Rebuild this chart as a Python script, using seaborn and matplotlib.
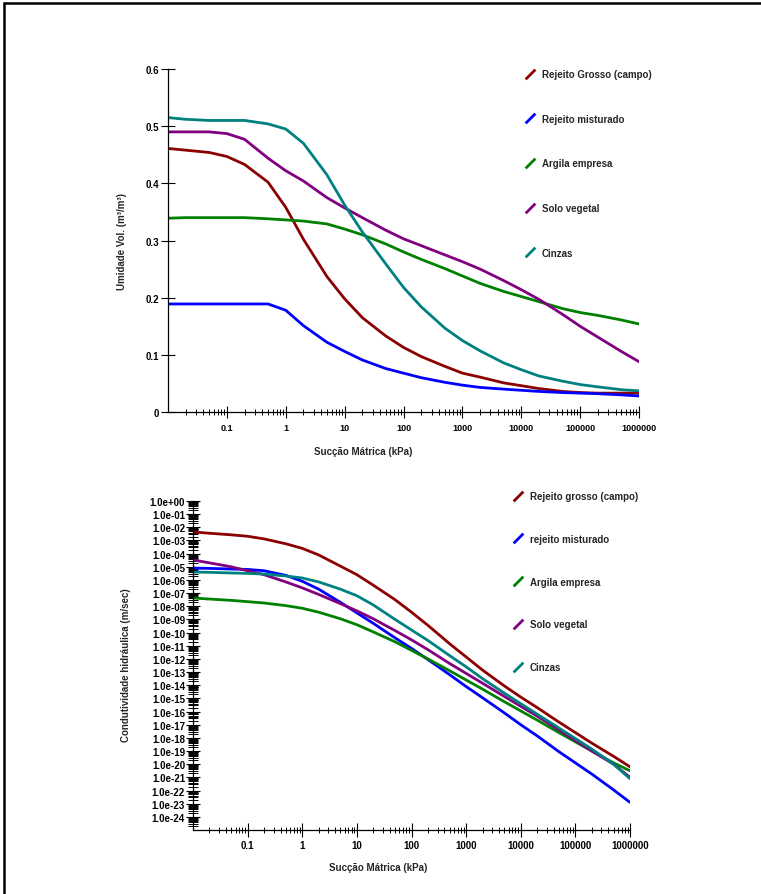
import numpy as np
import pandas as pd
import matplotlib
matplotlib.use("Agg")
import matplotlib.pyplot as plt
import matplotlib.ticker as mticker
from matplotlib.lines import Line2D
from matplotlib.path import Path
import seaborn as sns

# succao matrica (kPa)
succao = [0.01, 0.02, 0.05, 0.1, 0.2, 0.5, 1, 2, 5, 10, 20, 50, 100, 200, 500,
          1000, 2000, 5000, 1e4, 2e4, 5e4, 1e5, 2e5, 5e5, 1e6]

# umidade volumetrica (m3/m3)
umid_grosso = [0.461, 0.458, 0.454, 0.447, 0.433, 0.402, 0.358, 0.302, 0.237, 0.198,
               0.165, 0.133, 0.113, 0.097, 0.080, 0.068, 0.061, 0.051, 0.046, 0.041,
               0.036, 0.034, 0.033, 0.033, 0.033]
umid_misturado = [0.189, 0.189, 0.189, 0.189, 0.189, 0.189, 0.178, 0.151, 0.122, 0.106,
                  0.091, 0.076, 0.068, 0.060, 0.052, 0.047, 0.043, 0.040, 0.038, 0.036,
                  0.034, 0.033, 0.032, 0.030, 0.028]
umid_argila = [0.339, 0.340, 0.340, 0.340, 0.340, 0.338, 0.336, 0.334, 0.329, 0.320,
               0.310, 0.294, 0.280, 0.267, 0.251, 0.238, 0.225, 0.211, 0.202, 0.193,
               0.181, 0.174, 0.169, 0.161, 0.154]
umid_solo = [0.490, 0.490, 0.490, 0.487, 0.477, 0.444, 0.422, 0.404, 0.375, 0.357,
             0.340, 0.318, 0.303, 0.291, 0.275, 0.263, 0.250, 0.230, 0.214, 0.197,
             0.171, 0.150, 0.131, 0.106, 0.088]
umid_cinzas = [0.515, 0.512, 0.510, 0.510, 0.510, 0.504, 0.495, 0.470, 0.415, 0.362,
               0.315, 0.259, 0.218, 0.184, 0.147, 0.125, 0.107, 0.086, 0.074, 0.063,
               0.054, 0.048, 0.044, 0.039, 0.037]

# expoente da condutividade hidraulica (log10 m/sec)
logk_grosso = [-2.35, -2.45, -2.57, -2.68, -2.88, -3.25, -3.6, -4.1, -4.95, -5.6,
               -6.4, -7.5, -8.45, -9.45, -10.85, -11.85, -12.85, -14.05, -14.9, -15.7,
               -16.8, -17.6, -18.4, -19.4, -20.2]
logk_misturado = [-5.1, -5.12, -5.17, -5.2, -5.3, -5.65, -6.1, -6.7, -7.7, -8.5,
                  -9.3, -10.4, -11.2, -12.05, -13.2, -14.1, -14.95, -16.1, -17.0, -17.85,
                  -19.05, -19.9, -20.75, -21.95, -22.9]
logk_argila = [-7.37, -7.45, -7.55, -7.65, -7.75, -7.95, -8.15, -8.45, -8.95, -9.4,
               -9.95, -10.7, -11.35, -12.0, -12.9, -13.6, -14.3, -15.25, -15.95, -16.65,
               -17.6, -18.3, -19.0, -19.9, -20.5]
logk_solo = [-4.48, -4.7, -5.0, -5.3, -5.6, -6.15, -6.6, -7.1, -7.8, -8.35,
             -8.95, -9.85, -10.55, -11.3, -12.35, -13.1, -13.85, -14.85, -15.6, -16.35,
             -17.4, -18.2, -19.0, -20.0, -21.0]
logk_cinzas = [-5.4, -5.42, -5.47, -5.5, -5.55, -5.7, -5.85, -6.15, -6.7, -7.2,
               -7.9, -9.0, -9.8, -10.6, -11.75, -12.6, -13.5, -14.6, -15.4, -16.2,
               -17.25, -18.05, -18.85, -20.0, -21.1]

nomes_umid = ["Rejeito Grosso (campo)", "Rejeito misturado", "Argila empresa",
              "Solo vegetal", "Cinzas"]
nomes_k = ["Rejeito grosso (campo)", "rejeito misturado", "Argila empresa",
           "Solo vegetal", "Cinzas"]
cores = ["#8b0000", "#0000ff", "#008000", "#800080", "#008080"]

sns.set_style("white")
plt.rcParams["font.family"] = ["Liberation Sans", "DejaVu Sans"]
plt.rcParams["font.weight"] = "bold"
plt.rcParams["axes.labelweight"] = "bold"


def montar(nomes, series):
    partes = []
    for nome, vals in zip(nomes, series):
        partes.append(pd.DataFrame({"succao": succao, "valor": vals, "material": nome}))
    return pd.concat(partes, ignore_index=True)


df_umid = montar(nomes_umid, [umid_grosso, umid_misturado, umid_argila, umid_solo, umid_cinzas])
df_k = montar(nomes_k, [logk_grosso, logk_misturado, logk_argila, logk_solo, logk_cinzas])
df_k["valor"] = 10.0 ** df_k["valor"]

fig = plt.figure(figsize=(7.61, 8.95), dpi=100)
ax1 = fig.add_axes([168 / 761, 1 - 413 / 895, 471 / 761, 343 / 895])
ax2 = fig.add_axes([193 / 761, 1 - 831 / 895, 437 / 761, 329 / 895])

sns.lineplot(data=df_umid, x="succao", y="valor", hue="material", hue_order=nomes_umid,
             palette=dict(zip(nomes_umid, cores)), estimator=None, lw=2, legend=False, ax=ax1)
sns.lineplot(data=df_k, x="succao", y="valor", hue="material", hue_order=nomes_k,
             palette=dict(zip(nomes_k, cores)), estimator=None, lw=2, legend=False, ax=ax2)

decadas = [0.1, 1, 10, 100, 1000, 10000, 100000, 1000000]
rot_dec = ["0.1", "1", "10", "100", "1000", "10000", "100000", "1000000"]

for ax in (ax1, ax2):
    ax.set_xscale("log")
    ax.set_xlim(0.01, 1e6)
    ax.xaxis.set_major_locator(mticker.FixedLocator(decadas))
    ax.xaxis.set_major_formatter(mticker.FixedFormatter(rot_dec))
    ax.xaxis.set_minor_locator(mticker.LogLocator(base=10, subs=np.arange(2, 10), numticks=100))
    ax.xaxis.set_minor_formatter(mticker.NullFormatter())
    for s in ("top", "right"):
        ax.spines[s].set_visible(False)
    for s in ("left", "bottom"):
        ax.spines[s].set_color("black")
        ax.spines[s].set_linewidth(0.9)
    ax.tick_params(which="both", bottom=True, left=True, top=False, right=False)
    ax.set_xlabel("Sucção Mátrica (kPa)", fontsize=7, fontweight="bold")

ax1.set_ylim(0, 0.6)
ax1.set_yticks([0, 0.1, 0.2, 0.3, 0.4, 0.5, 0.6])
ax1.set_yticklabels(["0", "0.1", "0.2", "0.3", "0.4", "0.5", "0.6"])
ax1.tick_params(axis="y", which="major", direction="inout", length=10.5, width=0.8,
                labelsize=7, pad=1, colors="black")
ax1.tick_params(axis="x", which="major", direction="inout", length=8.5, width=0.8,
                labelsize=6.5, pad=4, colors="black")
ax1.tick_params(axis="x", which="minor", direction="inout", length=5, width=0.7, colors="black")
ax1.set_ylabel("Umidade Vol. (m³/m³)", fontsize=7, fontweight="bold")
ax1.xaxis.set_label_coords(0.414, -0.099)
ax1.yaxis.set_label_coords(-0.098, 0.5)
ax1.yaxis.label.set_va("center")

ax2.set_yscale("log")
ax2.set_ylim(1e-25, 1)
ax2.yaxis.set_major_locator(mticker.FixedLocator(10.0 ** -np.arange(25)))
ax2.yaxis.set_major_formatter(mticker.FuncFormatter(lambda v, p: f"{v:.1e}"))
ax2.yaxis.set_minor_locator(mticker.LogLocator(base=10, subs=np.arange(2, 10), numticks=100))
ax2.yaxis.set_minor_formatter(mticker.NullFormatter())
ax2.tick_params(axis="y", which="major", direction="inout", length=9.5, width=0.8,
                labelsize=7, pad=1, colors="black")
ax2.tick_params(axis="y", which="minor", direction="inout", length=6.5, width=0.7, colors="black")
ax2.tick_params(axis="x", which="major", direction="inout", length=10.5, width=0.8,
                labelsize=7, pad=2, colors="black")
ax2.tick_params(axis="x", which="minor", direction="inout", length=5, width=0.7, colors="black")
ax2.set_ylabel("Condutividade hidráulica (m/sec)", fontsize=7, fontweight="bold")
ax2.xaxis.set_label_coords(0.424, -0.097)
ax2.yaxis.set_label_coords(-0.153, 0.505)
ax2.yaxis.label.set_va("center")

barra = Path([(-1, -1), (1, 1)], [Path.MOVETO, Path.LINETO])
alcas = [Line2D([], [], ls="none", marker=barra, markersize=7, markeredgewidth=2, color=c)
         for c in cores]
ax1.legend(alcas, nomes_umid, loc="upper left", bbox_to_anchor=(525 / 761, 1 - 70 / 895),
           bbox_transform=fig.transFigure, frameon=False, borderpad=0, borderaxespad=0,
           handlelength=1.0, handletextpad=0.7, labelspacing=3.57,
           prop={"size": 7, "weight": "bold"})
ax2.legend(alcas, nomes_k, loc="upper left", bbox_to_anchor=(513 / 761, 1 - 492 / 895),
           bbox_transform=fig.transFigure, frameon=False, borderpad=0, borderaxespad=0,
           handlelength=1.0, handletextpad=0.7, labelspacing=3.37,
           prop={"size": 7, "weight": "bold"})

# moldura (so topo e lado esquerdo visiveis)
fig.add_artist(Line2D([4.2 / 761, 1], [1 - 4.2 / 895, 1 - 4.2 / 895],
                      transform=fig.transFigure, color="black", lw=1.8))
fig.add_artist(Line2D([4.2 / 761, 4.2 / 761], [0, 1 - 4.2 / 895],
                      transform=fig.transFigure, color="black", lw=1.8))

fig.savefig("out.png", dpi=100)
